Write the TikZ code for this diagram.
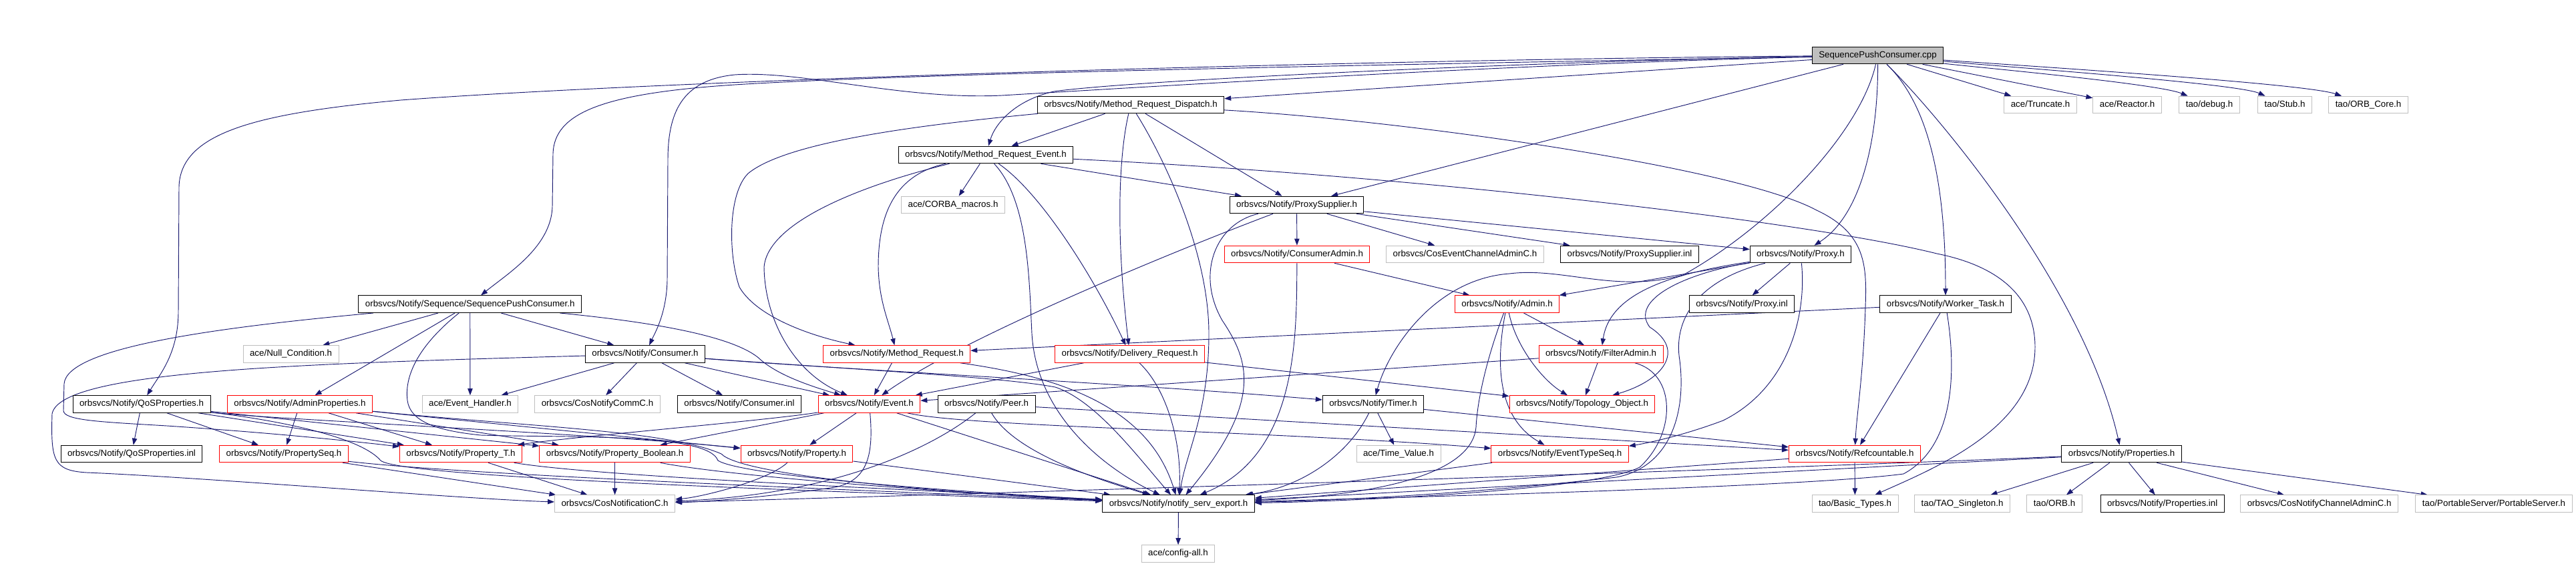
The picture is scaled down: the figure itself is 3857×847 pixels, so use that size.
\documentclass[tikz,border=0pt]{standalone}
\usepackage{fontspec}
\setmainfont{Liberation Sans}
\usetikzlibrary{arrows.meta}
\definecolor{edgeblue}{HTML}{191970}
\definecolor{lgray}{HTML}{BFBFBF}
\pgfdeclarelayer{bg}
\pgfsetlayers{bg,main}
\tikzset{
 nd/.style={draw, fill=white, line width=0.75pt, minimum height=19.2pt, inner xsep=7.5pt, inner ysep=0pt, text height=7.2pt, text depth=2.1pt, font=\fontsize{10}{12}\selectfont},
 blk/.style={nd, draw=black},
 redn/.style={nd, draw=red},
 grayn/.style={nd, draw=lgray},
 rootn/.style={nd, draw=black, fill=lgray},
 dep/.style={draw=edgeblue, line width=0.7pt, -{Triangle[length=7.5pt,width=5.5pt]}}
}
\begin{document}
\begin{tikzpicture}[x=0.75pt,y=-0.75pt]
\useasboundingbox (0,0) rectangle (3857,847);
% row 0
\node[rootn] (R) at (2811.5,83) {SequencePushConsumer.cpp};
% row 1
\node[grayn] (TR) at (3055,157) {ace/Truncate.h};
\node[grayn] (RE) at (3185,157) {ace/Reactor.h};
\node[grayn] (DB) at (3308,157) {tao/debug.h};
\node[grayn] (ST) at (3421,157) {tao/Stub.h};
\node[grayn] (OC) at (3546,157) {tao/ORB\_Core.h};
\node[blk] (MRD) at (1693,157) {orbsvcs/Notify/Method\_Request\_Dispatch.h};
% row 2
\node[blk] (MRE) at (1476,232) {orbsvcs/Notify/Method\_Request\_Event.h};
% row 3
\node[grayn] (CM) at (1427,307) {ace/CORBA\_macros.h};
\node[blk] (PS) at (1941.5,307) {orbsvcs/Notify/ProxySupplier.h};
% row 4
\node[redn] (CA) at (1942,381) {orbsvcs/Notify/ConsumerAdmin.h};
\node[grayn] (CEC) at (2193.5,381) {orbsvcs/CosEventChannelAdminC.h};
\node[blk] (PSI) at (2440,381) {orbsvcs/Notify/ProxySupplier.inl};
\node[blk] (PX) at (2696,381) {orbsvcs/Notify/Proxy.h};
% row 5
\node[blk] (SPC) at (703.7,455.7) {orbsvcs/Notify/Sequence/SequencePushConsumer.h};
\node[redn] (AD) at (2256.5,455.7) {orbsvcs/Notify/Admin.h};
\node[blk] (PXI) at (2608,455.7) {orbsvcs/Notify/Proxy.inl};
\node[blk] (WT) at (2913,455.7) {orbsvcs/Notify/Worker\_Task.h};
% row 6
\node[grayn] (NC) at (435.6,530.5) {ace/Null\_Condition.h};
\node[blk] (CO) at (966,530.5) {orbsvcs/Notify/Consumer.h};
\node[redn] (MR) at (1342.7,530.5) {orbsvcs/Notify/Method\_Request.h};
\node[redn] (DR) at (1691.6,530.5) {orbsvcs/Notify/Delivery\_Request.h};
\node[redn] (FA) at (2397,530.5) {orbsvcs/Notify/FilterAdmin.h};
% row 7
\node[blk] (QP) at (212,605.5) {orbsvcs/Notify/QoSProperties.h};
\node[redn] (AP) at (449,605.5) {orbsvcs/Notify/AdminProperties.h};
\node[grayn] (EH) at (704,605.5) {ace/Event\_Handler.h};
\node[grayn] (CNC) at (894.5,605.5) {orbsvcs/CosNotifyCommC.h};
\node[blk] (CI) at (1107,605.5) {orbsvcs/Notify/Consumer.inl};
\node[redn] (EV) at (1301.5,605.5) {orbsvcs/Notify/Event.h};
\node[blk] (PE) at (1477,605.5) {orbsvcs/Notify/Peer.h};
\node[blk] (TI) at (2056,605.5) {orbsvcs/Notify/Timer.h};
\node[redn] (TO) at (2369,605.5) {orbsvcs/Notify/Topology\_Object.h};
% row 8
\node[blk] (QPI) at (197,680) {orbsvcs/Notify/QoSProperties.inl};
\node[redn] (PSQ) at (425,680) {orbsvcs/Notify/PropertySeq.h};
\node[redn] (PT) at (690,680) {orbsvcs/Notify/Property\_T.h};
\node[redn] (PB) at (920.6,680) {orbsvcs/Notify/Property\_Boolean.h};
\node[redn] (PR) at (1193,680) {orbsvcs/Notify/Property.h};
\node[grayn] (TV) at (2094,680) {ace/Time\_Value.h};
\node[redn] (ETS) at (2335.6,680) {orbsvcs/Notify/EventTypeSeq.h};
\node[redn] (RC) at (2777,680) {orbsvcs/Notify/Refcountable.h};
\node[blk] (PP) at (3176.6,680) {orbsvcs/Notify/Properties.h};
% row 9
\node[grayn] (CN) at (920.6,754.7) {orbsvcs/CosNotificationC.h};
\node[blk] (NSE) at (1764.5,754.7) {orbsvcs/Notify/notify\_serv\_export.h};
\node[grayn] (BT) at (2777.5,754.7) {tao/Basic\_Types.h};
\node[grayn] (TS) at (2938,754.7) {tao/TAO\_Singleton.h};
\node[grayn] (ORB) at (3076,754.7) {tao/ORB.h};
\node[blk] (PPI) at (3237.6,754.7) {orbsvcs/Notify/Properties.inl};
\node[grayn] (CNCA) at (3472.6,754.7) {orbsvcs/CosNotifyChannelAdminC.h};
\node[grayn] (PSS) at (3734,754.7) {tao/PortableServer/PortableServer.h};
% row 10
\node[grayn] (CFG) at (1764,829.5) {ace/config-all.h};

\begin{pgfonlayer}{bg}
% root
\draw[dep] (R) -- (TR);
\draw[dep] (R) -- (RE);
\draw[dep] (R) .. controls (2950,100) and (3230,125) .. (DB);
\draw[dep] (R) .. controls (3000,100) and (3350,125) .. (ST);
\draw[dep] (R) .. controls (3050,100) and (3450,125) .. (OC);
\draw[dep] (R) .. controls (2812,200) and (2790,320) .. (PX);
\draw[dep] (R) -- (PS);
\draw[dep] (R) -- (MRD);
\draw[dep] (R) .. controls (2785,200) and (2650,340) .. (2520,412) .. controls (2420,440) and (2340,400) .. (2260,410) .. controls (2150,418) and (2080,520) .. (TI);
\draw[dep] (R) .. controls (2880,150) and (2913,250) .. (WT);
\draw[dep] (R) .. controls (2900,170) and (3120,430) .. (PP);
\draw[dep] (R) .. controls (2000,90) and (1000,120) .. (600,150) .. controls (380,170) and (270,200) .. (268,280) -- (267,470) .. controls (266,530) and (240,560) .. (QP);
\draw[dep] (R) .. controls (2200,95) and (1400,108) .. (1100,127) .. controls (900,140) and (830,170) .. (828,230) -- (827,310) .. controls (825,370) and (760,410) .. (SPC);
\draw[dep] (R) .. controls (2300,95) and (1800,125) .. (1500,143) .. controls (1350,150) and (1200,105) .. (1100,112) .. controls (1020,120) and (1000,170) .. (1000,240) -- (999,420) .. controls (998,470) and (980,500) .. (CO);
\draw[dep] (R) .. controls (2300,92) and (1700,120) .. (1578,137) .. controls (1520,150) and (1490,185) .. (MRE);
% Method_Request_Dispatch
\draw[dep] (MRD) -- (MRE);
\draw[dep] (MRD) .. controls (1678,220) and (1668,330) .. (DR);
\draw[dep] (MRD) -- (PS);
\draw[dep] (MRD) .. controls (1400,185) and (1180,210) .. (1120,260) .. controls (1090,290) and (1090,380) .. (1107,430) .. controls (1130,470) and (1200,500) .. (MR);
\draw[dep] (MRD) .. controls (1745,240) and (1810,380) .. (1810,500) .. controls (1810,620) and (1775,680) .. (NSE);
\draw[dep] (MRD) .. controls (2100,180) and (2600,250) .. (2720,315) .. controls (2795,350) and (2795,400) .. (2793,460) .. controls (2790,560) and (2780,620) .. (RC);
% Method_Request_Event
\draw[dep] (MRE) -- (CM);
\draw[dep] (MRE) -- (PS);
\draw[dep] (MRE) .. controls (1340,262) and (1315,320) .. (1315,400) .. controls (1316,450) and (1330,480) .. (MR);
\draw[dep] (MRE) .. controls (1560,290) and (1640,420) .. (DR);
\draw[dep] (MRE) .. controls (1540,300) and (1541,420) .. (1545,500) .. controls (1552,620) and (1650,700) .. (NSE);
\draw[dep] (MRE) .. controls (1300,275) and (1150,330) .. (1144,400) .. controls (1145,480) and (1190,560) .. (EV);
\draw[dep] (MRE) .. controls (2100,262) and (2700,330) .. (2900,380) .. controls (3000,400) and (3047,450) .. (3047,520) .. controls (3047,640) and (2900,700) .. (BT);
% ProxySupplier
\draw[dep] (PS) -- (CA);
\draw[dep] (PS) -- (CEC);
\draw[dep] (PS) -- (PSI);
\draw[dep] (PS) -- (PX);
\draw[dep] (PS) .. controls (1800,360) and (1450,500) .. (EV);
\draw[dep] (PS) .. controls (1820,335) and (1790,410) .. (1830,480) .. controls (1870,540) and (1892,600) .. (NSE);
% ConsumerAdmin
\draw[dep] (CA) -- (AD);
\draw[dep] (CA) .. controls (1941,500) and (1945,680) .. (NSE);
% Proxy
\draw[dep] (PX) -- (AD);
\draw[dep] (PX) -- (PXI);
\draw[dep] (PX) .. controls (2500,410) and (2410,440) .. (FA);
\draw[dep] (PX) .. controls (2520,410) and (2440,450) .. (2470,490) .. controls (2525,525) and (2490,570) .. (TO);
\draw[dep] (PX) .. controls (2705,470) and (2680,580) .. (2580,630) .. controls (2500,660) and (2440,668) .. (ETS);
\draw[dep] (PX) .. controls (2540,420) and (2505,480) .. (2515,540) .. controls (2525,620) and (2500,700) .. (2420,715) .. controls (2200,740) and (2000,750) .. (NSE);
% Admin
\draw[dep] (AD) -- (FA);
\draw[dep] (AD) .. controls (2270,520) and (2310,570) .. (TO);
\draw[dep] (AD) .. controls (2240,540) and (2240,625) .. (ETS);
\draw[dep] (AD) .. controls (2225,540) and (2212,600) .. (2210,640) .. controls (2205,700) and (2100,740) .. (NSE);
% FilterAdmin
\draw[dep] (FA) -- (TO);
\draw[dep] (FA) -- (EV);
\draw[dep] (FA) .. controls (2510,560) and (2510,650) .. (2455,700) .. controls (2390,735) and (2000,752) .. (NSE);
% Worker_Task
\draw[dep] (WT) -- (MR);
\draw[dep] (WT) -- (RC);
\draw[dep] (WT) .. controls (2930,560) and (2925,670) .. (2850,710) .. controls (2700,730) and (2100,745) .. (NSE);
% Refcountable
\draw[dep] (RC) -- (BT);
\draw[dep] (RC) -- (NSE);
% Properties
\draw[dep] (PP) -- (TS);
\draw[dep] (PP) -- (ORB);
\draw[dep] (PP) -- (PPI);
\draw[dep] (PP) -- (CNCA);
\draw[dep] (PP) -- (PSS);
\draw[dep] (PP) -- (NSE);
\draw[dep] (PP) .. controls (2600,705) and (1300,745) .. (CN);
% Timer
\draw[dep] (TI) -- (TV);
\draw[dep] (TI) .. controls (2020,680) and (1950,730) .. (NSE);
\draw[dep] (TI) -- (RC);
% Peer
\draw[dep] (PE) .. controls (1410,660) and (1270,740) .. (CN);
\draw[dep] (PE) .. controls (1520,680) and (1650,720) .. (NSE);
\draw[dep] (PE) -- (RC);
% Event
\draw[dep] (EV) -- (PR);
\draw[dep] (EV) -- (PB);
\draw[dep] (EV) .. controls (1150,630) and (850,655) .. (PT);
\draw[dep] (EV) .. controls (1308,680) and (1300,720) .. (1250,730) .. controls (1150,745) and (1050,752) .. (CN);
\draw[dep] (EV) -- (NSE);
\draw[dep] (EV) .. controls (1450,640) and (1900,645) .. (ETS);
% Delivery_Request
\draw[dep] (DR) -- (EV);
\draw[dep] (DR) -- (TO);
\draw[dep] (DR) .. controls (1745,580) and (1770,660) .. (NSE);
% Method_Request
\draw[dep] (MR) -- (EV);
\draw[dep] (MR) .. controls (1590,565) and (1720,610) .. (NSE);
% Consumer
\draw[dep] (CO) -- (EH);
\draw[dep] (CO) -- (CNC);
\draw[dep] (CO) -- (CI);
\draw[dep] (CO) -- (EV);
\draw[dep] (CO) .. controls (450,545) and (90,555) .. (78,620) .. controls (76,690) and (80,705) .. (130,708) .. controls (300,715) and (700,748) .. (CN);
\draw[dep] (CO) .. controls (1300,556) and (1700,575) .. (TI);
\draw[dep] (CO) .. controls (1300,555) and (1500,565) .. (1580,580) .. controls (1640,600) and (1700,680) .. (NSE);
% SequencePushConsumer.h
\draw[dep] (SPC) -- (NC);
\draw[dep] (SPC) -- (AP);
\draw[dep] (SPC) -- (EH);
\draw[dep] (SPC) -- (CO);
\draw[dep] (SPC) .. controls (950,480) and (1100,500) .. (1140,540) .. controls (1170,565) and (1220,580) .. (EV);
\draw[dep] (SPC) .. controls (330,490) and (100,520) .. (96,575) -- (95,615) .. controls (95,630) and (150,632) .. (250,638) .. controls (400,648) and (520,660) .. (PT);
\draw[dep] (SPC) .. controls (630,515) and (605,560) .. (610,600) .. controls (614,630) and (650,645) .. (720,652) .. controls (850,656) and (1060,648) .. (1075,690) .. controls (1110,712) and (1400,735) .. (NSE);
% AdminProperties
\draw[dep] (AP) -- (PSQ);
\draw[dep] (AP) -- (PT);
\draw[dep] (AP) -- (PB);
\draw[dep] (AP) -- (PR);
\draw[dep] (AP) .. controls (800,640) and (1000,645) .. (1080,680) .. controls (1110,712) and (1400,738) .. (NSE);
% QoSProperties
\draw[dep] (QP) -- (QPI);
\draw[dep] (QP) -- (PSQ);
\draw[dep] (QP) -- (PT);
\draw[dep] (QP) -- (PB);
\draw[dep] (QP) .. controls (400,628) and (900,650) .. (PR);
\draw[dep] (QP) .. controls (420,630) and (540,655) .. (570,690) .. controls (600,715) and (1200,735) .. (NSE);
% Property headers
\draw[dep] (PSQ) -- (CN);
\draw[dep] (PSQ) .. controls (700,712) and (1300,735) .. (NSE);
\draw[dep] (PT) -- (CN);
\draw[dep] (PT) .. controls (900,715) and (1400,735) .. (NSE);
\draw[dep] (PB) -- (CN);
\draw[dep] (PB) .. controls (1100,715) and (1450,740) .. (NSE);
\draw[dep] (PR) .. controls (1150,720) and (1050,745) .. (CN);
\draw[dep] (PR) -- (NSE);
% rest
\draw[dep] (ETS) -- (NSE);
\draw[dep] (NSE) -- (CFG);
\end{pgfonlayer}
\end{tikzpicture}
\end{document}
